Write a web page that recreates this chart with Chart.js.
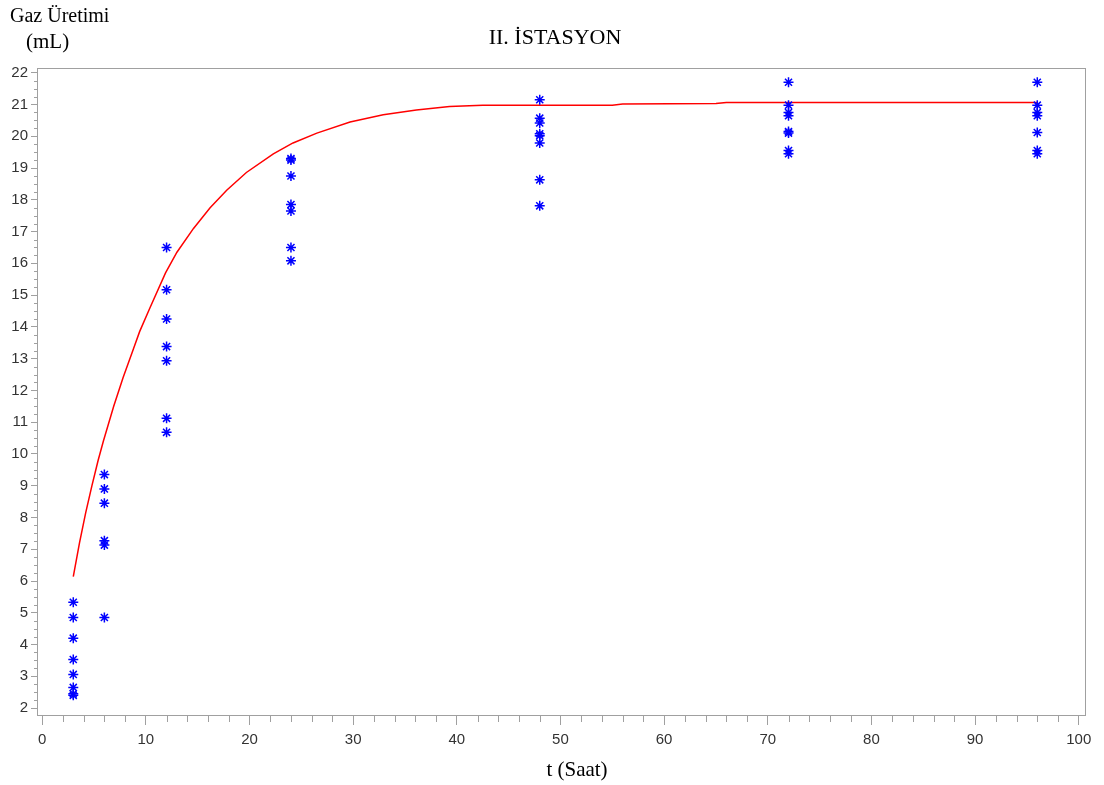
<!DOCTYPE html>
<html>
<head>
<meta charset="utf-8">
<script src="https://cdn.jsdelivr.net/npm/chart.js@4"></script>
<style>
  body { margin: 0; background: #fff; }
  #wrap { width: 1104px; height: 785px; }
</style>
</head>
<body>
<div id="wrap"><canvas id="gasChart" width="1104" height="785"></canvas></div>
<script>
// ölçüm saatleri ve her saatteki gaz üretimi değerleri (mL)
const saatler = [3, 6, 12, 24, 48, 72, 96];
const gaz3 = [5.33, 4.85, 4.2, 3.53, 3.06, 2.65, 2.45, 2.4];
const gaz6 = [9.35, 8.9, 8.45, 7.27, 7.13, 4.85];
const gaz12 = [16.5, 15.17, 14.25, 13.38, 12.93, 11.12, 10.68];
const gaz24 = [19.3, 19.25, 18.75, 17.85, 17.65, 16.5, 16.08];
const gaz48 = [21.15, 20.57, 20.42, 20.08, 20.02, 19.79, 18.63, 17.81];
const gaz72 = [21.7, 20.98, 20.75, 20.65, 20.15, 20.1, 19.55, 19.45];
const gaz96 = [21.7, 20.98, 20.75, 20.65, 20.12, 19.55, 19.45];

// model eğrisi (resimden okunan noktalar)
const egriT = [3, 3.6, 4.2, 4.8, 5.4, 5.9, 6.9, 7.8, 8.8, 9.4, 10.4, 11.9, 13.0, 14.6, 16.2, 17.8, 19.7, 22.3, 24.2, 26.5, 29.7, 32.9, 36.1, 39.3, 42.5, 55, 56, 65, 66, 96];
const egriGaz = [6.14, 7.2, 8.15, 9.0, 9.8, 10.4, 11.5, 12.4, 13.3, 13.85, 14.6, 15.7, 16.35, 17.1, 17.75, 18.3, 18.86, 19.45, 19.79, 20.1, 20.45, 20.68, 20.83, 20.94, 20.98, 20.98, 21.02, 21.03, 21.06, 21.06];

// eksen etiketleri
const xTicks = [0, 10, 20, 30, 40, 50, 60, 70, 80, 90, 100];
const yTicks = [2, 3, 4, 5, 6, 7, 8, 9, 10, 11, 12, 13, 14, 15, 16, 17, 18, 19, 20, 21, 22];

const olcumler = [gaz3, gaz6, gaz12, gaz24, gaz48, gaz72, gaz96];
const noktalar = [];
saatler.forEach((t, i) => {
  olcumler[i].forEach(v => noktalar.push({ x: t, y: v }));
});
const egri = egriT.map((t, i) => ({ x: t, y: egriGaz[i] }));

const AXIS_GRAY = '#a0a0a0';

// başlıklar, çerçeve ve ara çentikler
const decorPlugin = {
  id: 'decor',
  afterDraw(chart) {
    const ctx = chart.ctx;
    const a = chart.chartArea;
    const xs = chart.scales.x, ys = chart.scales.y;
    ctx.save();
    ctx.strokeStyle = AXIS_GRAY;
    ctx.lineWidth = 1;
    ctx.strokeRect(a.left + 0.5, a.top + 0.5, a.right - a.left - 1, a.bottom - a.top - 1);

    // ara çentikler
    ctx.beginPath();
    for (let v = 2; v <= 22.001; v += 0.25) {
      if (Math.abs(v - Math.round(v)) < 0.01) continue;
      const py = Math.round(ys.getPixelForValue(v)) + 0.5;
      ctx.moveTo(a.left, py);
      ctx.lineTo(a.left - 3, py);
    }
    for (let v = 0; v <= 100; v += 2) {
      if (v % 10 === 0) continue;
      const px = Math.round(xs.getPixelForValue(v)) + 0.5;
      ctx.moveTo(px, a.bottom);
      ctx.lineTo(px, a.bottom + 6);
    }
    ctx.stroke();

    ctx.fillStyle = '#000';
    ctx.textBaseline = 'middle';
    ctx.font = '22px "Liberation Serif"';
    ctx.textAlign = 'center';
    ctx.fillText('II. İSTASYON', 555, 38);
    ctx.font = '21px "Liberation Serif"';
    ctx.fillText('t (Saat)', 577, 770);
    ctx.textAlign = 'left';
    ctx.font = '20px "Liberation Serif"';
    ctx.fillText('Gaz Üretimi', 10, 17);
    ctx.font = '21px "Liberation Serif"';
    ctx.fillText('(mL)', 26, 42);
    ctx.restore();
  }
};

new Chart(document.getElementById('gasChart'), {
  type: 'scatter',
  data: {
    datasets: [
      {
        label: 'Model',
        type: 'line',
        data: egri,
        borderColor: '#ff0000',
        borderWidth: 1.5,
        pointRadius: 0,
        tension: 0,
        fill: false,
        order: 2
      },
      {
        label: 'Ölçüm',
        data: noktalar,
        pointStyle: 'star',
        pointRadius: 5,
        borderColor: '#0000ff',
        backgroundColor: '#0000ff',
        pointBorderWidth: 1.5,
        order: 1
      }
    ]
  },
  options: {
    responsive: false,
    animation: false,
    devicePixelRatio: 1,
    layout: { padding: { left: 0, top: 68, right: 18, bottom: 0 } },
    plugins: {
      legend: { display: false },
      title: { display: false },
      tooltip: { enabled: false }
    },
    scales: {
      x: {
        type: 'linear',
        min: -0.5,
        max: 100.7,
        afterBuildTicks: axis => { axis.ticks = xTicks.map(v => ({ value: v })); },
        afterFit: axis => { axis.height = 69; },
        border: { display: false },
        grid: { drawOnChartArea: false, color: AXIS_GRAY, tickLength: 9 },
        ticks: {
          color: '#333',
          padding: 6,
          maxRotation: 0,
          autoSkip: false,
          font: { family: '"Liberation Sans"', size: 15 }
        }
      },
      y: {
        type: 'linear',
        min: 1.75,
        max: 22.15,
        afterBuildTicks: axis => { axis.ticks = yTicks.map(v => ({ value: v })); },
        afterFit: axis => { axis.width = 37; },
        border: { display: false },
        grid: { drawOnChartArea: false, color: AXIS_GRAY, tickLength: 6 },
        ticks: {
          color: '#333',
          padding: 3,
          autoSkip: false,
          font: { family: '"Liberation Sans"', size: 15 }
        }
      }
    }
  },
  plugins: [decorPlugin]
});
</script>
</body>
</html>
